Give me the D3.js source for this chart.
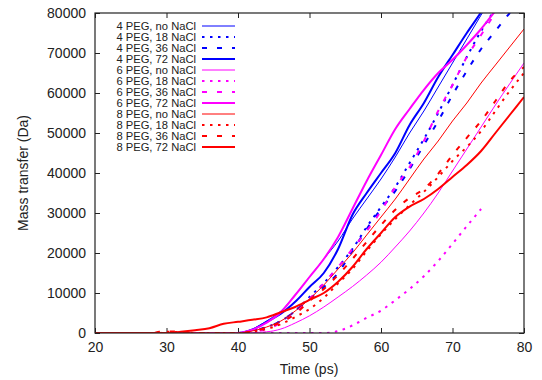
<!DOCTYPE html>
<html><head><meta charset="utf-8">
<script src="https://cdn.jsdelivr.net/npm/d3@7"></script>
<style>body{margin:0;background:#fff;} svg{display:block;font-family:"Liberation Sans",Arial,sans-serif;}</style>
</head><body><svg id="c" width="542" height="380"></svg>
<script>
// ---- data (time ps, mass transfer Da) ----
const xTicks = [20,30,40,50,60,70,80];
const yTicks = [0,10000,20000,30000,40000,50000,60000,70000,80000];
const seriesNames = ["4 PEG, no NaCl","4 PEG, 18 NaCl","4 PEG, 36 NaCl","4 PEG, 72 NaCl",
  "6 PEG, no NaCl","6 PEG, 18 NaCl","6 PEG, 36 NaCl","6 PEG, 72 NaCl",
  "8 PEG, no NaCl","8 PEG, 18 NaCl","8 PEG, 36 NaCl","8 PEG, 72 NaCl"];
const peg4_no = [[20,0],[40,0],[42,1000],[44,3000],[46,5500],[48,9500],[50,14000],[52,18500],[54,23000],[56,28500],[58,33500],[60,38500],[62,44000],[64,50000],[66,55500],[68,61500],[70,67500],[72,73500],[74,79500],[75,82500]];
const peg4_18 = [[20,0],[40,0],[42,500],[44,1500],[46,3000],[48,5500],[50,9000],[52,12500],[54,16500],[56,21000],[58,26500],[60,31500],[62,36500],[64,42500],[66,48500],[68,55000],[70,62000],[72,69000],[74,75500],[76,81000]];
const peg4_36 = [[20,0],[40,0],[42,500],[44,1500],[46,3000],[48,5500],[50,8500],[52,11500],[54,15000],[56,20500],[58,26000],[60,31000],[62,35500],[64,41000],[66,47000],[68,53000],[70,59500],[72,65500],[74,71000],[76,75500],[78,80000],[79,82000]];
const peg4_72 = [[20,0],[40,0],[42,800],[44,2800],[46,4800],[48,7800],[50,11500],[52,15000],[54,21000],[56,29500],[58,35000],[60,40000],[62,45000],[64,52000],[66,57500],[68,64000],[70,69500],[72,75000],[74,80200],[75,83000]];
const peg6_no = [[20,0],[40,0],[44,300],[46,1000],[48,2500],[50,4300],[52,6500],[54,9000],[56,11600],[58,14500],[60,17700],[62,21500],[64,25500],[66,30000],[68,35000],[70,40500],[72,46000],[74,51500],[76,57000],[78,62300],[80,67500]];
const peg6_18 = [[20,0],[52,0],[53,100],[54,500],[55,1100],[56,1900],[58,3800],[60,5600],[62,8200],[64,11000],[66,14200],[68,18000],[70,22300],[72,26700],[74,31000]];
const peg6_36 = [[20,0],[40,0],[42,300],[44,1000],[46,2500],[48,5000],[50,8500],[52,12500],[54,16500],[56,21000],[58,25500],[60,30500],[62,36500],[64,41500],[66,48000],[68,55500],[70,62000],[72,69000],[74,74500],[76,80000],[77,82500]];
const peg6_72 = [[20,0],[40,0],[42,800],[44,2600],[46,5200],[48,9500],[50,14000],[52,18500],[54,24000],[56,31000],[58,38000],[60,44500],[62,51000],[64,56000],[66,60800],[68,65000],[70,68300],[72,72000],[74,76000],[76,80500],[77,82500]];
const peg8_no = [[20,0],[40,0],[42,500],[44,1500],[46,3000],[48,5500],[50,8500],[52,12000],[54,16000],[56,20000],[58,24500],[60,29000],[62,33500],[64,38500],[66,43500],[68,48000],[70,53000],[72,57500],[74,62500],[76,67000],[78,71500],[80,76000]];
const peg8_18 = [[20,0],[29,0],[30,300],[32,200],[34,0],[40,0],[42,300],[44,1000],[46,2200],[48,4000],[50,6000],[52,8800],[54,12400],[56,16000],[58,20500],[60,24700],[62,28500],[64,32000],[66,35300],[68,39000],[70,43000],[72,46500],[74,50500],[76,55500],[78,60500],[80,65000]];
const peg8_36 = [[20,0],[28,0],[29,300],[31,400],[33,0],[40,0],[42,400],[44,1300],[46,2700],[48,4800],[50,8000],[52,11000],[54,14500],[56,18500],[58,22800],[60,27000],[62,30800],[64,33800],[66,36000],[68,39800],[70,44500],[72,48800],[74,53000],[76,58000],[78,63000],[80,66500]];
const peg8_72 = [[20,0],[30,0],[32,300],[34,700],[36,1200],[38,2300],[40,2800],[42,3300],[44,3900],[46,5200],[48,6500],[50,8300],[52,10000],[54,12800],[56,16500],[58,21000],[60,25000],[62,29000],[64,31600],[66,33500],[68,36000],[70,39000],[72,42000],[74,45500],[76,50000],[78,54500],[80,59000]];
const seriesData = [peg4_no,peg4_18,peg4_36,peg4_72,peg6_no,peg6_18,peg6_36,peg6_72,peg8_no,peg8_18,peg8_36,peg8_72];

// ---- styles ----
const colors = ["#0000ff","#0000ff","#0000ff","#0000ff","#ff00ff","#ff00ff","#ff00ff","#ff00ff","#ff0000","#ff0000","#ff0000","#ff0000"];
const styleKind = ["thin","dot","dash","thick"];
const widthOf = {thin:1, dot:2, dash:2, thick:2};
const dashOf = {thin:null, dot:"2.5,5.5", dash:"5,10", thick:null};

const svg = d3.select("#c");
const L=95, R=524, T=13, B=333;
const x = d3.scaleLinear().domain([20,80]).range([L,R]);
const y = d3.scaleLinear().domain([0,80000]).range([B,T]);

svg.append("clipPath").attr("id","clip").append("rect")
  .attr("x",L).attr("y",T).attr("width",R-L).attr("height",B-T);

const axisColor="#222";
const g = svg.append("g");
const axB = g.append("g").attr("transform",`translate(0,${B})`)
  .call(d3.axisBottom(x).tickValues(xTicks).tickSizeInner(-5).tickSizeOuter(0).tickPadding(9));
const axT = g.append("g").attr("transform",`translate(0,${T})`)
  .call(d3.axisTop(x).tickValues(xTicks).tickSizeInner(-5).tickSizeOuter(0).tickFormat(""));
const axL = g.append("g").attr("transform",`translate(${L},0)`)
  .call(d3.axisLeft(y).tickValues(yTicks).tickSizeInner(-5).tickSizeOuter(0).tickPadding(9).tickFormat(d3.format("d")));
const axR = g.append("g").attr("transform",`translate(${R},0)`)
  .call(d3.axisRight(y).tickValues(yTicks).tickSizeInner(-5).tickSizeOuter(0).tickFormat(""));
g.selectAll(".domain").remove();
g.selectAll(".tick line").attr("stroke",axisColor).attr("stroke-width",1);
g.selectAll(".tick text").attr("fill","#222").style("font-size","14px").style("font-family","Liberation Sans, Arial, sans-serif");

// series
const line = d3.line().x(d=>x(d[0])).y(d=>y(d[1])).curve(d3.curveMonotoneX);
const plot = svg.append("g").attr("clip-path","url(#clip)");
seriesData.forEach((data,i)=>{
  const k = styleKind[i%4];
  plot.append("path").datum(data).attr("d",line).attr("fill","none")
    .attr("stroke",colors[i]).attr("stroke-width",widthOf[k])
    .attr("stroke-dasharray",dashOf[k]).attr("stroke-linejoin","round");
});

// frame
svg.append("rect").attr("x",L).attr("y",T).attr("width",R-L).attr("height",B-T)
  .attr("fill","none").attr("stroke",axisColor).attr("stroke-width",1.2);

// legend
const lg = svg.append("g");
seriesNames.forEach((name,i)=>{
  const k = styleKind[i%4];
  const yy = 26 + i*11;
  lg.append("text").attr("x",196).attr("y",yy).attr("dy","0.35em").attr("text-anchor","end")
    .style("font-size","11.2px").attr("fill","#222").text(name);
  lg.append("line").attr("x1",202).attr("x2",235).attr("y1",yy).attr("y2",yy)
    .attr("stroke",colors[i]).attr("stroke-width",widthOf[k]).attr("stroke-dasharray",dashOf[k]);
});

// axis titles
svg.append("text").attr("x",309).attr("y",374).attr("text-anchor","middle")
  .style("font-size","14px").attr("fill","#222").text("Time (ps)");
svg.append("text").attr("transform","translate(28,173) rotate(-90)").attr("text-anchor","middle")
  .style("font-size","14px").attr("fill","#222").text("Mass transfer (Da)");
</script></body></html>
